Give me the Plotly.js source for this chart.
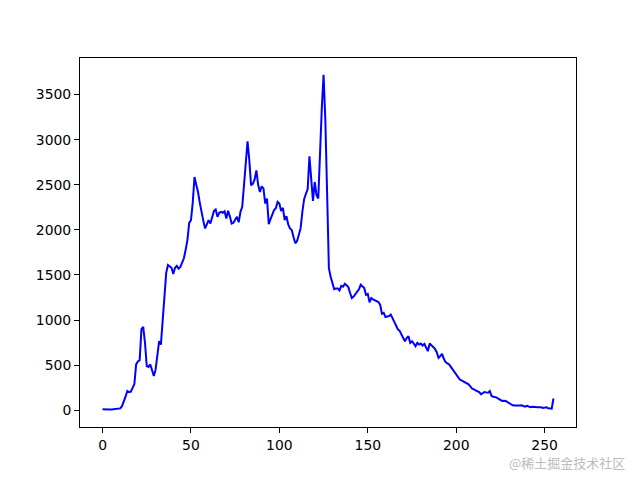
<!DOCTYPE html>
<html>
<head>
<meta charset="utf-8">
<script src="https://cdn.plot.ly/plotly-3.0.1.min.js"></script>
<style>html,body{margin:0;padding:0;background:#fff;}#chart{width:640px;height:480px;}</style>
</head>
<body>
<div id="chart"></div>
<script>
// Histogram counts for intensity levels 0..255
const counts = [
 10,8,7,8,9,9,10,11,12,15,20,45,90,150,213,200,205,250,290,508,
 540,555,900,924,750,489,480,508,430,379,450,650,765,728,1000,1250,1523,1611,1593,1580,
 1512,1580,1600,1570,1590,1640,1685,1780,1887,2078,2108,2300,2586,2500,2420,2300,2180,2100,2016,2060,
 2108,2070,2150,2210,2226,2145,2190,2200,2190,2207,2127,2211,2150,2071,2080,2110,2145,2085,2200,2255,
 2480,2700,2983,2770,2494,2510,2560,2660,2500,2420,2483,2460,2292,2347,2064,2120,2182,2220,2240,2310,
 2292,2210,2244,2108,2152,2060,2016,1998,1920,1851,1877,1950,2016,2200,2340,2400,2450,2815,2586,2321,
 2531,2384,2347,2955,3350,3720,3212,2403,1575,1480,1410,1343,1350,1350,1328,1380,1370,1402,1385,1365,
 1300,1244,1260,1285,1306,1340,1391,1370,1354,1280,1290,1196,1244,1230,1220,1218,1200,1170,1070,1080,
 1034,1040,1045,1060,1010,980,940,897,880,839,790,765,800,820,747,765,740,710,747,728,
 740,718,735,700,655,740,720,703,680,643,581,600,625,570,533,520,507,480,453,420,
 397,371,340,331,320,313,300,287,265,240,232,225,210,202,177,190,202,198,195,213,
 158,150,145,140,125,110,103,105,103,90,77,65,55,52,50,48,52,55,45,40,
 48,40,33,38,40,35,33,35,33,26,30,33,22,20,18,130
];
const levels = counts.map((_, i) => i);
const xTicks = [0, 50, 100, 150, 200, 250];
const yTicks = [0, 500, 1000, 1500, 2000, 2500, 3000, 3500];
const watermark = "@稀土掘金技术社区";

const font = {family: "DejaVu Sans", size: 13.9, color: "#000"};
const axisCommon = {
  showline: true, mirror: true, linecolor: "#000", linewidth: 1,
  ticks: "outside", ticklen: 5, tickwidth: 1, tickcolor: "#000",
  showgrid: false, zeroline: false, tickfont: font
};

Plotly.newPlot("chart", [{
  x: levels, y: counts, type: "scatter", mode: "lines",
  line: {color: "#0000ff", width: 2}
}], {
  width: 640, height: 480,
  margin: {l: 80, r: 64, t: 58, b: 53},
  paper_bgcolor: "#fff", plot_bgcolor: "#fff",
  showlegend: false,
  xaxis: Object.assign({}, axisCommon, {range: [-12.75, 267.75], tickvals: xTicks}),
  yaxis: Object.assign({}, axisCommon, {range: [-186, 3906], tickvals: yTicks}),
  annotations: [{
    text: watermark, xref: "paper", yref: "paper", x: 1.1, y: -0.095,
    xanchor: "right", yanchor: "middle", showarrow: false, borderpad: 0,
    font: {family: "Noto Sans CJK SC", size: 13, color: "#bbbbbb"}
  }]
}, {displayModeBar: false, staticPlot: true});
</script>
</body>
</html>
